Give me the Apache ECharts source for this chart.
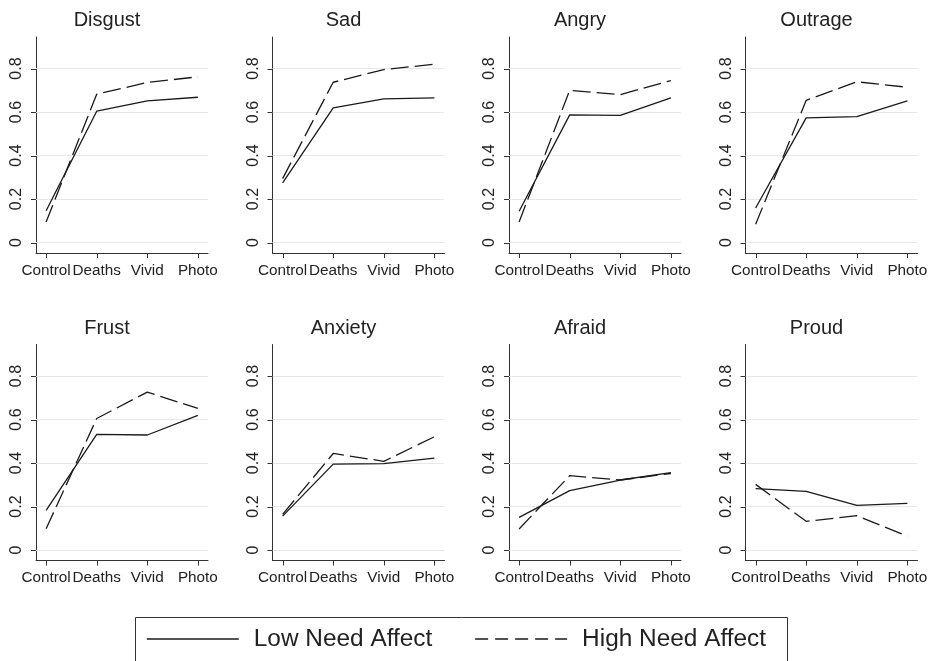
<!DOCTYPE html>
<html>
<head>
<meta charset="utf-8">
<script src="https://cdn.jsdelivr.net/npm/echarts@6/dist/echarts.min.js"></script>
<style>
html,body{margin:0;padding:0;background:#fff;}
#chart{width:930px;height:661px;}
</style>
</head>
<body>
<div id="chart"></div>
<script>
// ---- data ----
const categories = ['Control', 'Deaths', 'Vivid', 'Photo'];
const panelTitles = ['Disgust', 'Sad', 'Angry', 'Outrage', 'Frust', 'Anxiety', 'Afraid', 'Proud'];
const yTicks = [0, 0.2, 0.4, 0.6, 0.8];
const seriesNames = ['Low Need Affect', 'High Need Affect'];

const disgustLow  = [0.146, 0.604, 0.651, 0.668];
const disgustHigh = [0.095, 0.682, 0.736, 0.762];
const sadLow      = [0.274, 0.619, 0.661, 0.665];
const sadHigh     = [0.294, 0.737, 0.795, 0.820];
const angryLow    = [0.144, 0.587, 0.585, 0.665];
const angryHigh   = [0.095, 0.700, 0.680, 0.745];
const outrageLow  = [0.159, 0.573, 0.579, 0.651];
const outrageHigh = [0.084, 0.654, 0.739, 0.714];
const frustLow    = [0.182, 0.532, 0.529, 0.619];
const frustHigh   = [0.098, 0.605, 0.726, 0.651];
const anxietyLow  = [0.156, 0.395, 0.397, 0.423];
const anxietyHigh = [0.164, 0.444, 0.408, 0.521];
const afraidLow   = [0.150, 0.273, 0.322, 0.356];
const afraidHigh  = [0.097, 0.342, 0.322, 0.352];
const proudLow    = [0.282, 0.270, 0.205, 0.215];
const proudHigh   = [0.302, 0.132, 0.158, 0.064];

const lowValues  = [disgustLow, sadLow, angryLow, outrageLow, frustLow, anxietyLow, afraidLow, proudLow];
const highValues = [disgustHigh, sadHigh, angryHigh, outrageHigh, frustHigh, anxietyHigh, afraidHigh, proudHigh];

// ---- layout ----
const FONT = '"Liberation Sans", Arial, Helvetica, sans-serif';
const TEXT = '#222';
const AXIS = '#333';
const X_MIN = -0.2, X_MAX = 3.2, Y_MIN = -0.048, Y_MAX = 0.945;
const colLefts = [36, 272.5, 509, 745.5];
const rowTops = [37, 344.5];
const GW = 172, GH = 216, TICK = 5;
const xIdx = categories.map((c, i) => i);

const grids = [], xAxes = [], yAxes = [], series = [], graphics = [];

panelTitles.forEach((title, p) => {
  const r = Math.floor(p / 4), c = p % 4;
  grids.push({left: colLefts[c], top: rowTops[r], width: GW, height: GH, containLabel: false});
  xAxes.push({
    gridIndex: p, type: 'value', min: X_MIN, max: X_MAX,
    axisLine: {show: true, onZero: false, lineStyle: {color: AXIS, width: 1}},
    axisTick: {show: false},
    axisLabel: {show: false},
    splitLine: {show: false}
  });
  yAxes.push({
    gridIndex: p, type: 'value', min: Y_MIN, max: Y_MAX,
    axisLine: {show: true, onZero: false, lineStyle: {color: AXIS, width: 1}},
    axisTick: {show: false},
    axisLabel: {show: true, customValues: yTicks, showMinLabel: true, showMaxLabel: true, hideOverlap: false,
      rotate: 90, margin: 11, fontSize: 16, fontFamily: FONT, color: TEXT,
      formatter: v => (Math.abs(v) < 1e-9 ? '0' : String(Math.round(v * 10) / 10))},
    splitLine: {show: false}
  });
  // gridlines
  series.push({
    type: 'line', xAxisIndex: p, yAxisIndex: p, data: [], silent: true, z: 1,
    markLine: {silent: true, symbol: 'none', z: 1, label: {show: false}, animation: false,
      lineStyle: {color: '#e8e8e8', width: 1, type: 'solid'},
      emphasis: {disabled: true},
      data: yTicks.map(v => ({yAxis: v}))}
  });
  // x ticks + category labels
  series.push({
    type: 'custom', xAxisIndex: p, yAxisIndex: p, clip: false, silent: true, z: 4, animation: false,
    data: xIdx.map(v => [v, Y_MIN]),
    renderItem: (params, api) => {
      const pt = api.coord([api.value(0), api.value(1)]);
      const x = Math.round(pt[0]) + 0.5;
      return {type: 'group', children: [
        {type: 'line', shape: {x1: x, y1: pt[1], x2: x, y2: pt[1] + TICK}, style: {stroke: AXIS, lineWidth: 1}},
        {type: 'text', x: pt[0], y: pt[1] + 10,
          style: {text: categories[params.dataIndex], fill: TEXT, font: '15.3px ' + FONT,
            textAlign: 'center', textVerticalAlign: 'top'}}
      ]};
    }
  });
  // y ticks
  series.push({
    type: 'custom', xAxisIndex: p, yAxisIndex: p, clip: false, silent: true, z: 4, animation: false,
    data: yTicks.map(v => [X_MIN, v]),
    renderItem: (params, api) => {
      const pt = api.coord([api.value(0), api.value(1)]);
      const y = Math.round(pt[1]) + 0.5;
      return {type: 'line', shape: {x1: pt[0] - TICK, y1: y, x2: pt[0], y2: y}, style: {stroke: AXIS, lineWidth: 1}};
    }
  });
  series.push({
    name: seriesNames[0], type: 'line', xAxisIndex: p, yAxisIndex: p, z: 3,
    symbol: 'none', animation: false,
    lineStyle: {color: '#1a1a1a', width: 1.3, type: 'solid'},
    itemStyle: {color: '#1a1a1a'},
    data: lowValues[p].map((v, i) => [xIdx[i], v])
  });
  series.push({
    name: seriesNames[1], type: 'line', xAxisIndex: p, yAxisIndex: p, z: 3,
    symbol: 'none', animation: false,
    lineStyle: {color: '#1a1a1a', width: 1.3, type: [18, 6]},
    itemStyle: {color: '#1a1a1a'},
    data: highValues[p].map((v, i) => [xIdx[i], v])
  });
  graphics.push({
    type: 'text', x: colLefts[c] + 71, y: r === 0 ? 20 : 328, silent: true,
    style: {text: title, fill: TEXT, font: '20px ' + FONT, textAlign: 'center', textVerticalAlign: 'middle'}
  });
});

// legend box
graphics.push({
  type: 'rect', silent: true, z: 0,
  shape: {x: 135.5, y: 617.5, width: 652, height: 60},
  style: {fill: 'none', stroke: AXIS, lineWidth: 1}
});

const chart = echarts.init(document.getElementById('chart'), null, {renderer: 'canvas'});
chart.setOption({
  animation: false,
  backgroundColor: '#fff',
  grid: grids,
  xAxis: xAxes,
  yAxis: yAxes,
  series: series,
  graphic: graphics,
  legend: {
    show: true, left: 146, top: 627, padding: 0, itemGap: 42,
    itemWidth: 92, itemHeight: 14,
    textStyle: {fontSize: 24.4, fontFamily: FONT, color: TEXT, lineHeight: 24, padding: [0, 0, 0, 10]},
    selectedMode: false,
    data: [
      {name: seriesNames[0], itemStyle: {opacity: 0}, lineStyle: {width: 1.6, type: 'solid', color: '#1a1a1a'}},
      {name: seriesNames[1], itemStyle: {opacity: 0}, lineStyle: {width: 1.6, type: [13, 7], color: '#1a1a1a'}}
    ]
  }
});
</script>
</body>
</html>
